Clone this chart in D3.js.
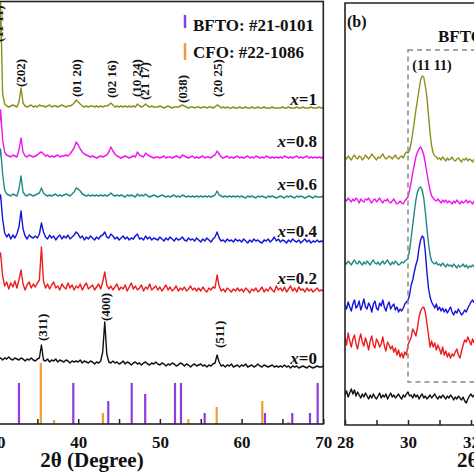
<!DOCTYPE html>
<html><head><meta charset="utf-8">
<script src="https://cdn.jsdelivr.net/npm/d3@7/dist/d3.min.js"></script>
<style>
html,body{margin:0;padding:0;background:#fff}
svg{display:block}
text{font-family:"Liberation Serif","Times New Roman",serif;font-weight:bold;fill:#111}
</style></head><body>
<svg id="chart" width="474" height="474"></svg>
<script>
// ---------------- data ----------------
const compositions = ["0", "0.2", "0.4", "0.6", "0.8", "1"];

// panel (a): 2θ from 29.75° in 0.25° steps (intensity, a.u., stacked)
const wideStart = 29.75, wideStep = 0.25;
const wideX0 = [
66,67,65,66,64,66,65,67,65,64,66,65,64,66,65,63,65,64,66,64,
63,65,66,79,64,63,65,62,64,63,65,62,64,63,62,64,63,61,63,62,
63,62,64,61,63,62,61,63,62,60,62,61,63,72,102,70,62,61,63,61,
62,60,61,63,60,62,61,59,61,62,60,61,59,61,62,60,59,61,60,62,
60,59,61,60,58,60,59,61,60,58,59,61,60,58,60,59,57,59,60,58,
59,60,58,59,57,59,58,60,61,69,62,58,59,57,59,58,60,57,58,59,
57,59,58,60,57,58,59,57,58,60,58,57,59,58,57,58,59,57,58,57,
58,57,59,57,58,56,58,57,58,56,57,58,57,56,58,57,56,57,58,57,
57,58];
const wideX02 = [
140,150,165,171,148,138,142,135,141,137,143,136,144,154,140,134,139,142,136,140,
137,141,144,177,143,136,140,135,139,142,136,138,134,140,137,135,141,136,139,134,
138,136,140,134,138,141,135,137,139,134,137,140,135,142,152,139,135,138,134,137,
140,134,137,135,139,133,137,141,135,138,134,136,139,133,137,135,140,134,136,138,
134,137,133,136,139,134,137,133,135,138,133,136,134,137,133,135,138,134,136,133,
136,133,137,134,132,136,134,137,136,149,138,133,135,132,136,134,132,135,133,136,
133,135,132,136,134,131,135,133,136,132,134,137,132,135,133,137,134,132,138,134,
136,133,137,132,135,138,133,136,132,137,134,135,132,136,133,135,132,134,136,133,
134,133];
const wideX04 = [
190,200,222,229,205,191,187,190,185,189,186,190,197,213,195,188,185,189,187,186,
188,186,190,201,192,187,185,189,186,188,184,187,189,185,188,186,189,185,187,189,
192,190,186,188,184,187,185,188,186,184,187,185,188,189,192,187,186,190,188,185,
187,184,186,188,185,187,184,186,185,188,190,185,186,184,188,185,187,184,186,185,
184,187,185,183,186,184,187,185,183,186,184,185,187,184,183,186,184,185,183,186,
184,182,185,183,186,184,182,185,187,192,186,183,184,182,185,183,184,182,185,183,
184,182,185,183,181,184,182,185,183,184,182,181,184,183,185,182,184,187,183,185,
182,184,183,181,184,182,185,183,182,184,181,183,185,182,184,181,183,182,184,182,
183,182];
const wideX06 = [
231,240,262,275,250,234,230,229,228,230,229,228,235,248,232,229,228,230,229,228,
229,230,231,236,231,229,228,229,228,229,230,228,229,228,229,230,229,228,230,232,
236,235,233,230,229,228,229,228,229,228,229,228,229,228,229,228,229,231,229,228,
229,228,229,228,227,229,228,229,228,227,230,228,229,228,230,228,227,228,229,228,
227,228,229,228,227,228,227,228,229,227,228,227,229,228,227,228,227,228,227,228,
227,228,227,228,227,228,227,228,229,233,229,228,227,228,227,228,227,228,227,228,
227,228,227,226,228,227,228,227,226,228,227,228,227,226,228,227,228,227,226,227,
228,227,226,228,227,228,227,226,228,227,228,227,226,227,228,227,226,228,227,227,
227,228];
const wideX08 = [
268,275,290,314,284,272,269,268,267,269,268,267,274,286,272,268,267,269,268,267,
268,269,271,272,270,268,269,267,268,267,268,269,267,268,268,269,268,270,273,276,
282,279,275,272,270,269,268,267,268,267,266,267,268,267,268,269,272,277,273,270,
268,267,266,267,268,267,266,267,268,267,272,269,268,267,271,269,268,267,266,267,
267,266,267,268,266,267,267,266,267,268,267,266,269,268,267,266,267,268,266,267,
266,267,268,266,267,267,266,268,269,273,270,267,266,267,268,266,267,266,267,268,
266,267,266,267,268,266,267,266,268,267,266,267,266,268,267,266,267,266,267,266,
267,266,268,267,266,267,266,267,268,266,267,266,267,268,266,267,266,267,266,267,
266,267];
const wideX1 = [
318,322,350,424,330,320,318,317,318,319,318,317,322,336,321,318,317,318,319,317,
318,317,319,318,318,317,318,319,317,318,318,317,318,319,318,317,318,318,319,321,
324,322,320,318,317,318,317,318,318,317,318,317,318,317,318,318,319,321,319,317,
318,317,318,317,318,317,318,317,318,317,320,318,317,318,320,318,317,318,317,317,
317,318,317,316,317,318,317,316,317,317,317,318,319,318,317,316,317,317,316,317,
317,316,317,317,316,317,317,316,317,319,318,316,317,316,317,316,316,317,316,316,
317,316,316,317,316,316,317,316,316,317,316,316,317,316,316,316,317,316,316,316,
316,317,316,316,317,316,316,316,317,316,316,317,316,316,316,317,316,316,316,317,
316,316];
const wideSeries = [wideX0, wideX02, wideX04, wideX06, wideX08, wideX1];

// panel (b): 2θ from 28° in 0.05° steps
const zoomStart = 28, zoomStep = 0.05;
const zoomX0 = [
30,34,28,32,36,31,35,29,33,30,27,31,28,32,29,26,30,27,31,28,
26,29,32,27,30,28,31,26,29,32,28,30,27,29,31,28,26,30,28,31,
33,29,30,27,31,28,30,26,29,31,27,29,26,28,30,27,29,31,28,26,
29,27,30,28,26,29,27,30,28,25,28,26,29,27,25,28,24,22,26,29,
31,28,30];
const zoomX02 = [
88,80,92,84,78,86,90,81,76,85,91,83,79,87,82,75,84,89,80,77,
86,83,78,81,88,79,74,83,80,76,79,73,77,70,75,68,72,67,73,70,
80,84,88,96,93,89,97,108,114,117,118,113,102,90,78,84,78,82,75,80,
76,71,78,70,74,68,72,67,71,69,73,76,70,67,74,80,85,83,88,84,
80,86,82];
const zoomX04 = [
120,116,123,118,114,121,125,117,119,124,115,120,126,118,116,122,119,113,121,124,
117,115,122,119,125,118,114,120,123,116,119,121,115,118,113,116,114,117,121,123,
125,130,140,145,153,160,165,177,185,189,187,173,153,137,128,123,120,117,121,115,
118,114,117,113,116,112,115,118,113,110,114,112,116,113,110,112,115,113,117,120,
123,125,122];
const zoomX06 = [
163,161,164,162,160,163,165,162,161,164,162,160,163,161,164,162,160,163,165,162,
161,163,160,162,164,161,163,165,162,160,163,161,164,162,160,161,163,162,164,165,
167,175,187,200,213,225,233,237,238,235,227,213,197,182,170,164,162,161,163,160,
161,159,162,160,158,161,159,160,158,161,159,157,160,158,159,161,158,160,157,159,
158,160,158];
const zoomX08 = [
226,224,227,225,223,226,224,227,225,222,226,224,223,226,225,227,224,222,225,226,
223,225,227,224,222,225,224,226,223,222,224,226,223,221,222,224,222,221,224,226,
228,235,243,252,260,268,273,276,278,275,270,262,252,243,235,229,227,225,224,226,
224,222,225,223,225,222,224,223,221,224,222,225,223,221,224,222,223,225,222,224,
223,221,224];
const zoomX1 = [
268,266,269,267,265,268,270,267,266,269,268,265,267,270,268,266,268,271,269,267,
265,268,267,269,271,268,266,267,269,268,266,268,270,267,266,268,269,267,271,273,
272,275,282,292,303,315,325,335,345,349,348,339,328,310,292,279,272,269,268,266,
267,265,268,266,264,267,265,266,268,265,264,266,267,265,263,266,265,267,264,266,
265,263,266];
const zoomSeries = [zoomX0, zoomX02, zoomX04, zoomX06, zoomX08, zoomX1];

// reference patterns (stick positions, relative intensity)
const bftoTheta = [32.75, 39.4, 43.68, 46.55, 48.2, 51.85, 52.58, 55.48, 62.86, 66.2, 68.37, 69.31];
const bftoIntensity = [41, 41, 23, 41, 30, 41, 41, 11, 11, 11, 11, 41];
const cfoTheta = [35.42, 37.04, 43.02, 53.48, 56.95, 62.53, 65.72];
const cfoIntensity = [61, 4, 11, 5, 17, 23, 2];

// peak indexing
const bftoHkl = ["(11 11)", "(202)", "(01 20)", "(02 16)", "(10 24)", "(21 17)", "(038)", "(20 25)"];
const bftoHklTheta = [30.18, 32.9, 39.75, 44.1, 47.1, 48.05, 52.71, 57.1];
const cfoHkl = ["(311)", "(400)", "(511)"];
const cfoHklTheta = [35.63, 43.28, 57.3];

const legendLabels = ["BFTO: #21-0101", "CFO: #22-1086"];
const wideTicks = [20, 25, 30, 35, 40, 45, 50, 55, 60, 65, 70];
const zoomTicks = [28, 29, 30, 31, 32];

// ---------------- styles / layout ----------------
const seriesColors = ["#111111", "#ee1c1c", "#1414dc", "#1f8a80", "#ee14ee", "#8e8e1c"];
const bftoColor = "#8a3ee0", cfoColor = "#f29a3a";
const frame = "#222";

const svg = d3.select("#chart");
const xL = d3.scaleLinear().domain([30, 70]).range([-3.5, 323.3]);
const yL = d3.scaleLinear().domain([0, 422]).range([424, 2]);
const xR = d3.scaleLinear().domain([28, 32]).range([345, 471]);
const yR = d3.scaleLinear().domain([0, 422]).range([425, 3]);

const defs = svg.append("defs");
defs.append("clipPath").attr("id", "clipL").append("rect")
  .attr("x", xL(20)).attr("y", yL(422)).attr("width", xL(70) - xL(20)).attr("height", yL(0) - yL(422));
defs.append("clipPath").attr("id", "clipR").append("rect")
  .attr("x", xR(28)).attr("y", yR(422)).attr("width", xR(34) - xR(28)).attr("height", yR(0) - yR(422));

// ===== panel (a) =====
const gL = svg.append("g").attr("clip-path", "url(#clipL)");
gL.selectAll("line.bfto").data(bftoTheta).join("line").attr("class", "bfto")
  .attr("x1", d => xL(d)).attr("x2", d => xL(d))
  .attr("y1", yL(0)).attr("y2", (d, i) => yL(bftoIntensity[i]))
  .attr("stroke", bftoColor).attr("stroke-width", 2.2);
gL.selectAll("line.cfo").data(cfoTheta).join("line").attr("class", "cfo")
  .attr("x1", d => xL(d)).attr("x2", d => xL(d))
  .attr("y1", yL(0)).attr("y2", (d, i) => yL(cfoIntensity[i]))
  .attr("stroke", cfoColor).attr("stroke-width", 2.2);

const lineL = d3.line().x((d, i) => xL(wideStart + i * wideStep)).y(d => yL(d));
wideSeries.forEach((s, k) => {
  gL.append("path").attr("d", lineL(s)).attr("fill", "none")
    .attr("stroke", seriesColors[k]).attr("stroke-width", 1.4).attr("stroke-linejoin", "round");
});

// frame
svg.append("rect").attr("x", xL(20)).attr("y", yL(422) - 0.5)
  .attr("width", xL(70) - xL(20)).attr("height", yL(0) - yL(422) + 0.5)
  .attr("fill", "none").attr("stroke", frame).attr("stroke-width", 1.6);

// axis
svg.append("g").attr("transform", `translate(0,${yL(0)})`)
  .call(d3.axisBottom(xL).tickValues(wideTicks).tickSizeInner(-5).tickSizeOuter(0).tickPadding(12)
    .tickFormat(d => d % 10 === 0 ? d : ""))
  .call(g => {
    g.select(".domain").remove();
    g.attr("font-size", 17);
    g.selectAll("line").attr("stroke", frame).attr("stroke-width", 1.5);
  });
svg.append("text").attr("x", 92).attr("y", 467).attr("text-anchor", "middle")
  .attr("font-size", 21).text("2θ (Degree)");

// series labels
const labelLift = [2, 7, 5, 6, 10, 3];
wideSeries.forEach((s, k) => {
  const t = svg.append("text").attr("x", 317).attr("y", yL(s[s.length - 1] + labelLift[k]))
    .attr("text-anchor", "end").attr("font-size", 17);
  t.append("tspan").attr("font-style", "italic").text("x");
  t.append("tspan").text("=" + compositions[k]);
});

// hkl labels (rotated)
const bftoLabelBase = [382, 337, 327, 326, 327, 324, 321, 327];
bftoHkl.forEach((h, i) => {
  svg.append("text")
    .attr("transform", `translate(${xL(bftoHklTheta[i])},${yL(bftoLabelBase[i])}) rotate(-90)`)
    .attr("dy", "0.35em").attr("font-size", 13).text(h);
});
const cfoLabelBase = [83, 103, 76];
cfoHkl.forEach((h, i) => {
  svg.append("text")
    .attr("transform", `translate(${xL(cfoHklTheta[i])},${yL(cfoLabelBase[i])}) rotate(-90)`)
    .attr("dy", "0.35em").attr("font-size", 13).text(h);
});

// legend
const legendColors = [bftoColor, cfoColor];
const legendBars = [[15, 28], [43, 60]];
const legendBase = [31, 57.5];
legendLabels.forEach((l, i) => {
  svg.append("line").attr("x1", 185).attr("x2", 185)
    .attr("y1", legendBars[i][0]).attr("y2", legendBars[i][1])
    .attr("stroke", legendColors[i]).attr("stroke-width", 2.5);
  svg.append("text").attr("x", 193).attr("y", legendBase[i]).attr("font-size", 17).text(l);
});

// ===== panel (b) =====
const gR = svg.append("g").attr("clip-path", "url(#clipR)");
const lineR = d3.line().x((d, i) => xR(zoomStart + i * zoomStep)).y(d => yR(d));
zoomSeries.forEach((s, k) => {
  gR.append("path").attr("d", lineR(s)).attr("fill", "none")
    .attr("stroke", seriesColors[k]).attr("stroke-width", 1.4).attr("stroke-linejoin", "round");
});

// dashed region
svg.append("rect").attr("x", xR(30)).attr("y", yR(375))
  .attr("width", xR(33.5) - xR(30)).attr("height", yR(43) - yR(375))
  .attr("fill", "none").attr("stroke", "#888").attr("stroke-width", 1.5).attr("stroke-dasharray", "5,4");

// frame
svg.append("path").attr("d", `M${xR(34)},${yR(422)}H${xR(28)}V${yR(0)}H${xR(34)}`)
  .attr("fill", "none").attr("stroke", frame).attr("stroke-width", 1.6);

svg.append("g").attr("transform", `translate(0,${yR(0)})`)
  .call(d3.axisBottom(xR).tickValues(zoomTicks).tickSizeInner(-5).tickSizeOuter(0).tickPadding(11)
    .tickFormat(d => d % 2 === 0 ? d : ""))
  .call(g => {
    g.select(".domain").remove();
    g.attr("font-size", 17);
    g.selectAll("line").attr("stroke", frame).attr("stroke-width", 1.5);
  });
svg.append("text").attr("x", 457).attr("y", 467).attr("font-size", 21).text("2θ (Degree)");

svg.append("text").attr("x", 347).attr("y", 27).attr("font-size", 16).text("(b)");
svg.append("text").attr("x", 438).attr("y", 42).attr("font-size", 17).text("BFTO");
svg.append("text").attr("x", xR(30.76)).attr("y", 70).attr("text-anchor", "middle")
  .attr("font-size", 14).text("(11 11)");
</script>
</body></html>
